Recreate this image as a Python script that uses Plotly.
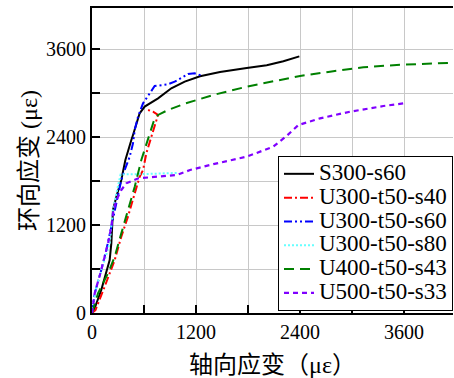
import plotly.graph_objects as go

# ---- data ----
s300_s60_x = [0, 23, 107, 165, 204, 223, 231, 242, 281, 338, 385, 415, 454, 473, 512, 550, 608, 762, 915, 1070, 1246, 1477, 1785, 2016, 2208, 2323, 2392]
s300_s60_y = [0, 41, 314, 541, 723, 950, 1177, 1405, 1586, 1814, 2087, 2223, 2360, 2428, 2587, 2724, 2815, 2928, 3065, 3155, 3228, 3287, 3342, 3378, 3433, 3469, 3500]

u300_s40_x = [0, 40, 146, 262, 338, 415, 493, 550, 589, 608, 627, 685, 742, 762, 704, 627]
u300_s40_y = [0, 40, 359, 723, 1041, 1314, 1632, 1859, 1950, 2087, 2178, 2405, 2610, 2701, 2746, 2778]

u300_s60_x = [0, 31, 107, 165, 223, 281, 338, 377, 415, 435, 473, 493, 531, 589, 666, 723, 877, 954, 1108, 1185, 1266]
u300_s60_y = [0, 268, 586, 859, 1177, 1496, 1814, 1950, 2087, 2132, 2314, 2496, 2678, 2860, 2996, 3096, 3119, 3155, 3260, 3269, 3237]

u300_s80_x = [0, 50, 146, 204, 223, 242, 281, 330, 600, 981]
u300_s80_y = [0, 359, 723, 950, 1177, 1405, 1632, 1890, 1895, 1910]

u400_s43_x = [0, 69, 185, 262, 338, 415, 493, 569, 608, 666, 723, 762, 877, 1070, 1400, 1785, 2169, 2400, 2746, 3131, 3516, 4170]
u400_s43_y = [0, 268, 541, 768, 1086, 1405, 1723, 2087, 2223, 2451, 2655, 2701, 2769, 2855, 2974, 3087, 3178, 3233, 3292, 3351, 3383, 3414]

u500_s33_x = [0, 31, 107, 185, 223, 242, 281, 338, 396, 535, 977, 1131, 1400, 1785, 2092, 2250, 2381, 2631, 2977, 3362, 3600]
u500_s33_y = [0, 268, 586, 950, 1177, 1360, 1541, 1678, 1769, 1837, 1882, 1950, 2030, 2132, 2269, 2420, 2564, 2655, 2746, 2823, 2860]

series_names = ["S300-s60", "U300-t50-s40", "U300-t50-s60", "U300-t50-s80", "U400-t50-s43", "U500-t50-s33"]

tick_vals = [0, 600, 1200, 1800, 2400, 3000, 3600]
tick_text = ["0", "", "1200", "", "2400", "", "3600"]

x_title = "轴向应变（με）"
y_title = "环向应变 (με)"

# ---- styles ----
styles = [
    dict(color="#000000", dash="solid", width=2),
    dict(color="#ff0000", dash="8px,3px,2px,3px", width=2),
    dict(color="#0000ff", dash="8px,3px,2px,3px,2px,3px", width=2),
    dict(color="#66ffff", dash="2px,2px", width=2),
    dict(color="#008000", dash="10px,6px", width=2),
    dict(color="#8000ff", dash="5px,4px", width=2.2),
]

xs = [s300_s60_x, u300_s40_x, u300_s60_x, u300_s80_x, u400_s43_x, u500_s33_x]
ys = [s300_s60_y, u300_s40_y, u300_s60_y, u300_s80_y, u400_s43_y, u500_s33_y]

fig = go.Figure()
for name, x, y, st in zip(series_names, xs, ys, styles):
    fig.add_trace(go.Scatter(
        x=x, y=y, mode="lines", line=st,
        name='<span style="font-size:23px">' + name + '</span>',
    ))

serif = "Liberation Serif, Times New Roman, serif"
cjk = "Liberation Serif, Noto Sans CJK SC"

axis_common = dict(
    tickvals=tick_vals,
    ticktext=tick_text,
    ticks="inside",
    ticklen=8,
    tickwidth=2,
    tickcolor="black",
    showline=True,
    linecolor="black",
    linewidth=2,
    showgrid=True,
    gridcolor="#c8c8c8",
    gridwidth=1,
    zeroline=False,
    automargin=False,
    tickfont=dict(family=serif, size=20, color="black"),
)

fig.update_layout(
    width=454,
    height=378,
    margin=dict(l=92, r=1, t=8, b=65, autoexpand=False),
    paper_bgcolor="white",
    plot_bgcolor="white",
    xaxis=dict(range=[0, 4165], mirror=True,
               title=dict(text=x_title, font=dict(family=cjk, size=24, color="black"), standoff=15),
               **axis_common),
    yaxis=dict(range=[0, 4160],
               title=dict(text=y_title, font=dict(family=cjk, size=24, color="black"), standoff=2),
               **axis_common),
    legend=dict(
        x=1, xanchor="right", y=0.515, yanchor="top",
        bordercolor="black", borderwidth=1, bgcolor="white",
        font=dict(family=serif, size=16, color="black"),
        tracegroupgap=0,
    ),
    showlegend=True,
)

fig.write_html(
    "out.html",
    config={"responsive": False, "displayModeBar": False},
    post_script="document.body.style.margin='0';document.body.style.overflow='hidden';",
)
